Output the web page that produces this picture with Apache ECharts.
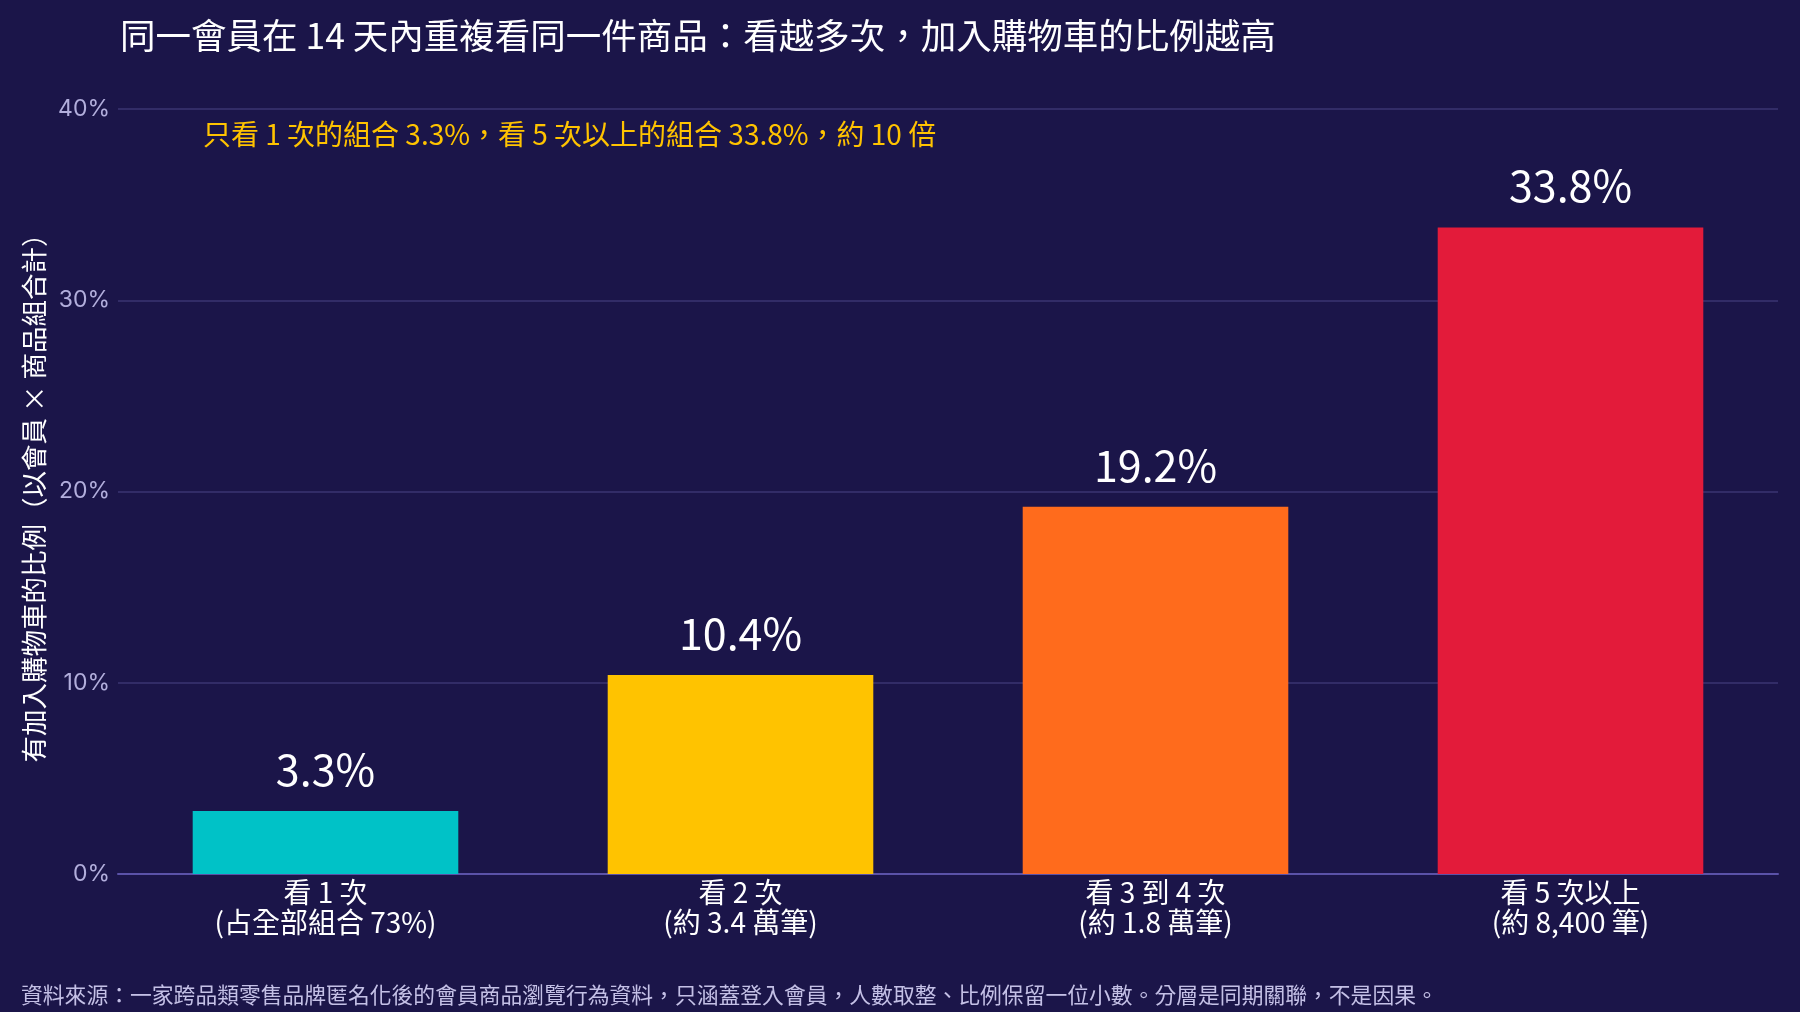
<!DOCTYPE html>
<html>
<head>
<meta charset="utf-8">
<script src="https://cdn.jsdelivr.net/npm/echarts@6/dist/echarts.min.js"></script>
<style>
  html, body { margin: 0; padding: 0; background: #1b1549; }
  #chart { width: 1800px; height: 1012px; }
</style>
</head>
<body>
<div id="chart"></div>
<script>
// 類別（兩行標籤）
var categories = [
  '看 1 次\n(占全部組合 73%)',
  '看 2 次\n(約 3.4 萬筆)',
  '看 3 到 4 次\n(約 1.8 萬筆)',
  '看 5 次以上\n(約 8,400 筆)'
];
// 加入購物車比例 (%)
var rates = [3.3, 10.4, 19.2, 33.8];
var barColors = ['#00c2c7', '#ffc300', '#ff6b1c', '#e31b3a'];

var FONT = '"Noto Sans CJK TC", "Noto Sans", sans-serif';

var chart = echarts.init(document.getElementById('chart'));
chart.setOption({
  backgroundColor: '#1b1549',
  textStyle: { fontFamily: FONT },
  title: [{
    text: '同一會員在 14 天內重複看同一件商品：看越多次，加入購物車的比例越高',
    left: 115,
    top: 13,
    textStyle: { color: '#ffffff', fontSize: 35.5, fontWeight: 'normal', fontFamily: FONT }
  }, {
    text: '只看 1 次的組合 3.3%，看 5 次以上的組合 33.8%，約 10 倍',
    left: 198,
    top: 115,
    textStyle: { color: '#ffc300', fontSize: 28, fontWeight: 'normal', fontFamily: FONT }
  }, {
    text: '資料來源：一家跨品類零售品牌匿名化後的會員商品瀏覽行為資料，只涵蓋登入會員，人數取整、比例保留一位小數。分層是同期關聯，不是因果。',
    left: 16,
    top: 979,
    textStyle: { color: '#c4c0e6', fontSize: 21.8, fontWeight: 'normal', fontFamily: FONT }
  }],
  grid: { left: 118, right: 22, top: 109, bottom: 138 },
  xAxis: {
    type: 'category',
    data: categories,
    axisLine: { lineStyle: { color: '#5b52a8', width: 2 } },
    axisTick: { show: false },
    axisLabel: {
      color: '#ffffff',
      fontSize: 28,
      lineHeight: 30,
      margin: 3,
      fontFamily: FONT
    }
  },
  yAxis: {
    type: 'value',
    min: 0,
    max: 40,
    interval: 10,
    name: '有加入購物車的比例（以會員 × 商品組合計）',
    nameLocation: 'middle',
    nameGap: 71,
    nameTextStyle: { color: '#ffffff', fontSize: 26.5, fontFamily: FONT },
    axisLine: { show: false },
    axisTick: { show: false },
    splitLine: { lineStyle: { color: '#3b3572', width: 1.5 } },
    axisLabel: {
      color: '#b2aedc',
      fontSize: 23,
      margin: 8,
      fontFamily: 'Inter, "Noto Sans", sans-serif',
      formatter: '{value}%'
    }
  },
  series: [{
    type: 'bar',
    barWidth: '64%',
    data: rates.map(function (v, i) {
      return { value: v, itemStyle: { color: barColors[i] } };
    }),
    label: {
      show: true,
      position: 'top',
      distance: 20,
      color: '#ffffff',
      fontSize: 43,
      fontFamily: FONT,
      formatter: function (p) { return p.value.toFixed(1) + '%'; }
    }
  }]
});
</script>
</body>
</html>
